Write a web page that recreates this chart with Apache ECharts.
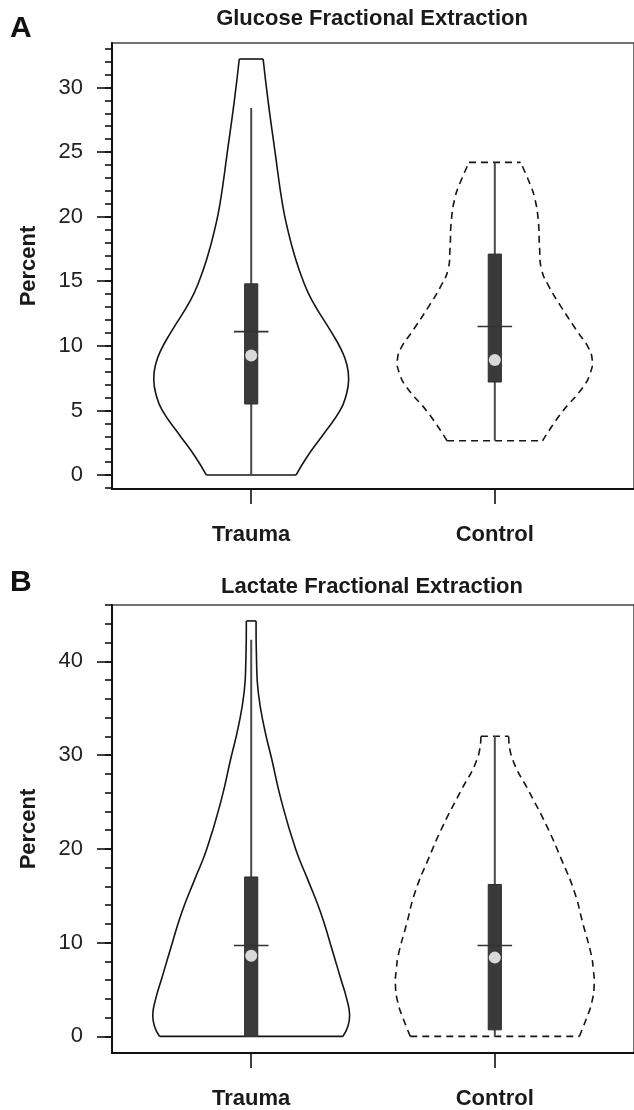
<!DOCTYPE html>
<html>
<head>
<meta charset="utf-8">
<script src="https://cdn.jsdelivr.net/npm/echarts@6/dist/echarts.min.js"></script>
<style>
  html, body { margin: 0; padding: 0; background: #fff; }
  #chart { width: 634px; height: 1110px; }
</style>
</head>
<body>
<div id="chart"></div>
<script>
const categories = ["Trauma", "Control"];

// violin outlines: [percent, half width in category units]
const glucoseTraumaShape = [
  [0, 0.184], [1.4, 0.229], [3.2, 0.298], [5.0, 0.365], [6.2, 0.39], [7.4, 0.4], [8.6, 0.392],
  [9.8, 0.367], [11.0, 0.331], [13.5, 0.25], [15, 0.214], [17, 0.178], [19, 0.15], [21, 0.128],
  [25, 0.098], [29, 0.069], [32.2, 0.049]
];
const glucoseControlShape = [
  [2.65, 0.196], [4.8, 0.273], [6.8, 0.362], [7.9, 0.392], [8.9, 0.4], [9.9, 0.383], [11, 0.343],
  [13, 0.273], [14.6, 0.222], [15.9, 0.192], [17.5, 0.184], [19.8, 0.178], [21.5, 0.163],
  [22.5, 0.145], [24.2, 0.106]
];
const lactateTraumaShape = [
  [0, 0.376], [1, 0.396], [2.3, 0.404], [4, 0.392], [6.2, 0.367], [9.7, 0.327],
  [13.3, 0.284], [16.8, 0.231], [20, 0.182], [25.3, 0.122], [29.6, 0.084], [33, 0.053],
  [36.7, 0.029], [40, 0.022], [44.3, 0.02]
];
const lactateControlShape = [
  [0, 0.347], [1.9, 0.376], [3.6, 0.398], [5.5, 0.408], [7.2, 0.404], [8.7, 0.396], [11.9, 0.363],
  [15.4, 0.327], [18.9, 0.273], [22.5, 0.212], [26, 0.143], [29.6, 0.072], [32, 0.057]
];

// box summaries, one value per category
const glucoseLow = [0, 2.65];
const glucoseQ1 = [5.5, 7.2];
const glucoseQ3 = [14.8, 17.1];
const glucoseHigh = [28.4, 24.2];
const glucoseMean = [11.1, 11.5];
const glucoseMedian = [9.25, 8.9];

const lactateLow = [0, 0];
const lactateQ1 = [0, 0.7];
const lactateQ3 = [17.0, 16.2];
const lactateHigh = [42.3, 32];
const lactateMean = [9.7, 9.7];
const lactateMedian = [8.6, 8.4];

const glucoseTicks = [0, 5, 10, 15, 20, 25, 30];
const lactateTicks = [0, 10, 20, 30, 40];

const FONT = "Liberation Sans, Arial, Helvetica, sans-serif";
const chart = echarts.init(document.getElementById("chart"));

function range(a, b, step) {
  const out = [];
  for (let v = a; v <= b + 1e-9; v += step) out.push(v);
  return out;
}

function violinRenderer(shapes) {
  return function (params, api) {
    const shape = shapes[params.dataIndex];
    const cx = api.value(0);
    const left = shape.map((p) => api.coord([cx - p[1], p[0]]));
    const right = shape.map((p) => api.coord([cx + p[1], p[0]]));
    const n = shape.length - 1;
    const style = {
      stroke: "#151515",
      lineWidth: 1.6,
      fill: null,
      lineDash: params.dataIndex === 1 ? [7, 5] : null,
    };
    return {
      type: "group",
      children: [
        { type: "polyline", shape: { points: left, smooth: 0.5 }, style },
        { type: "polyline", shape: { points: right, smooth: 0.5 }, style },
        { type: "line", shape: { x1: left[0][0], y1: left[0][1], x2: right[0][0], y2: right[0][1] }, style },
        { type: "line", shape: { x1: left[n][0], y1: left[n][1], x2: right[n][0], y2: right[n][1] }, style },
      ],
    };
  };
}

function boxRenderer(params, api) {
  const x = api.value(0);
  const lo = api.coord([x, api.value(1)]);
  const q1 = api.coord([x, api.value(2)]);
  const q3 = api.coord([x, api.value(3)]);
  const hi = api.coord([x, api.value(4)]);
  const mL = api.coord([x - 0.071, api.value(5)]);
  const mR = api.coord([x + 0.071, api.value(5)]);
  const half = api.size([0.027, 0])[0];
  return {
    type: "group",
    children: [
      { type: "line", shape: { x1: lo[0], y1: lo[1], x2: hi[0], y2: hi[1] }, style: { stroke: "#4a4a4a", lineWidth: 2 } },
      { type: "rect", shape: { x: q3[0] - half, y: q3[1], width: half * 2, height: q1[1] - q3[1] }, style: { fill: "#3a3a3a", stroke: "#2e2e2e", lineWidth: 1 } },
      { type: "line", shape: { x1: mL[0], y1: mL[1], x2: mR[0], y2: mR[1] }, style: { stroke: "#333", lineWidth: 1.6 } },
    ],
  };
}

function boxRows(low, q1, q3, high, mean) {
  return categories.map((c, i) => [i + 1, low[i], q1[i], q3[i], high[i], mean[i]]);
}

const grids = [
  { left: 112, top: 43, width: 525, height: 446, min: -1.08, max: 33.44, ticks: glucoseTicks, minor: range(-1, 33, 1) },
  { left: 112, top: 605, width: 525, height: 450, min: -1.77, max: 46.0, ticks: lactateTicks, minor: range(0, 46, 2) },
];

const xAxes = grids.map((g, i) => ({
  type: "value",
  gridIndex: i,
  min: 0.4286,
  max: 2.5714,
  axisLine: { onZero: false, lineStyle: { color: "#111", width: 2 } },
  axisTick: { customValues: [1, 2], length: 15, lineStyle: { color: "#111", width: 1.6 } },
  axisLabel: {
    customValues: [1, 2],
    formatter: (v) => categories[Math.round(v) - 1],
    margin: 35,
    color: "#1a1a1a",
    fontSize: 22,
    fontWeight: "bold",
    fontFamily: FONT,
  },
  splitLine: { show: false },
}));

const yAxes = [];
grids.forEach((g, i) => {
  yAxes.push({
    type: "value",
    gridIndex: i,
    position: "left",
    min: g.min,
    max: g.max,
    name: "Percent",
    nameLocation: "middle",
    nameGap: 72,
    nameTextStyle: { fontSize: 22, fontWeight: "bold", color: "#1a1a1a", fontFamily: FONT },
    axisLine: { onZero: false, lineStyle: { color: "#111", width: 2 } },
    axisTick: { customValues: g.ticks, length: 15, lineStyle: { color: "#111", width: 1.6 } },
    axisLabel: { customValues: g.ticks, margin: 29, fontSize: 22, color: "#222", fontFamily: FONT },
    splitLine: { show: false },
  });
  yAxes.push({
    type: "value",
    gridIndex: i,
    position: "left",
    min: g.min,
    max: g.max,
    axisLine: { show: false },
    axisTick: { customValues: g.minor, length: 7, lineStyle: { color: "#111", width: 1.6 } },
    axisLabel: { show: false },
    splitLine: { show: false },
  });
});

const panels = [
  { shapes: [glucoseTraumaShape, glucoseControlShape], rows: boxRows(glucoseLow, glucoseQ1, glucoseQ3, glucoseHigh, glucoseMean), median: glucoseMedian },
  { shapes: [lactateTraumaShape, lactateControlShape], rows: boxRows(lactateLow, lactateQ1, lactateQ3, lactateHigh, lactateMean), median: lactateMedian },
];

const series = [];
panels.forEach((p, i) => {
  series.push({
    type: "custom",
    xAxisIndex: i,
    yAxisIndex: i * 2,
    renderItem: violinRenderer(p.shapes),
    data: categories.map((c, k) => [k + 1]),
    encode: { x: 0 },
    silent: true,
    z: 2,
  });
  series.push({
    type: "custom",
    xAxisIndex: i,
    yAxisIndex: i * 2,
    renderItem: boxRenderer,
    data: p.rows,
    encode: { x: 0, y: [1, 4] },
    silent: true,
    z: 3,
  });
  series.push({
    type: "scatter",
    xAxisIndex: i,
    yAxisIndex: i * 2,
    data: p.median.map((v, k) => [k + 1, v]),
    symbol: "circle",
    symbolSize: 12,
    itemStyle: { color: "#d9d9d9", opacity: 1 },
    silent: true,
    z: 4,
  });
});

chart.setOption({
  animation: false,
  backgroundColor: "#fff",
  title: [
    { text: "A", left: 10, top: 14, padding: 0, textStyle: { fontSize: 30, fontWeight: "bold", color: "#111", fontFamily: FONT } },
    { text: "Glucose Fractional Extraction", left: 372, top: 8, padding: 0, textAlign: "center", textStyle: { fontSize: 22, fontWeight: "bold", color: "#1a1a1a", fontFamily: FONT } },
    { text: "B", left: 10, top: 568, padding: 0, textStyle: { fontSize: 30, fontWeight: "bold", color: "#111", fontFamily: FONT } },
    { text: "Lactate Fractional Extraction", left: 372, top: 576, padding: 0, textAlign: "center", textStyle: { fontSize: 22, fontWeight: "bold", color: "#1a1a1a", fontFamily: FONT } },
  ],
  grid: grids.map((g) => ({
    left: g.left, top: g.top, width: g.width, height: g.height,
    show: true, borderColor: "#444", borderWidth: 1.5, backgroundColor: "transparent",
  })),
  xAxis: xAxes,
  yAxis: yAxes,
  series,
});
</script>
</body>
</html>
